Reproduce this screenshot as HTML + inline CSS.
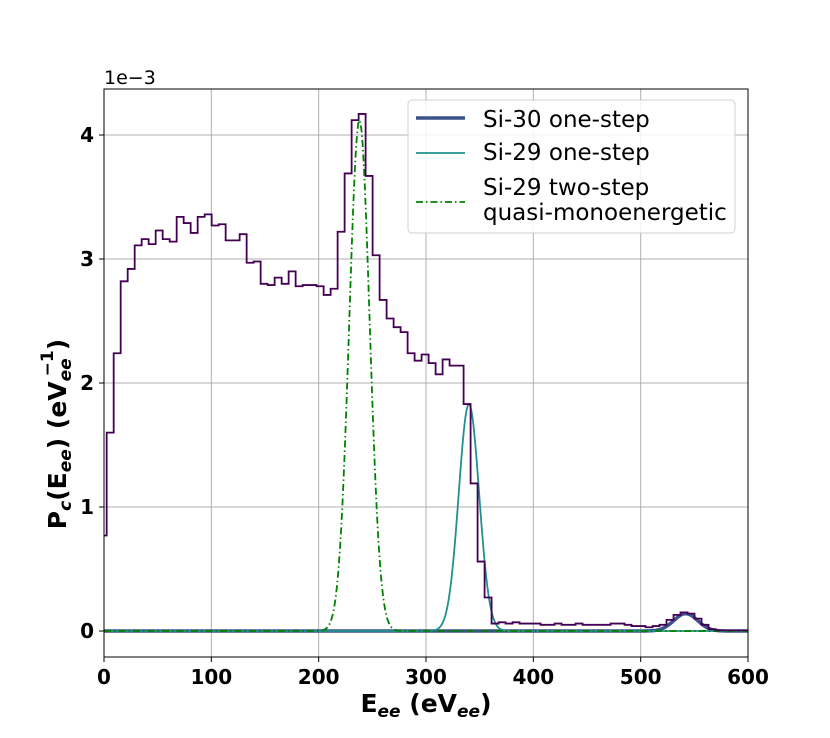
<!DOCTYPE html>
<html><head><meta charset="utf-8"><style>
body{margin:0;background:#fff;}
svg{display:block;font-family:"DejaVu Sans","Liberation Sans",sans-serif;}
</style></head><body>
<svg id="chart" width="830" height="738">
<g id="grid"></g>
<g id="series"></g>
<rect x="104" y="89" width="644" height="568" fill="none" stroke="#000" stroke-width="1"/>
<g id="ticks"></g>
<text x="104" y="84" font-size="19">1e−3</text>
<text x="426" y="712" font-size="25" font-weight="bold" text-anchor="middle">E<tspan font-size="17" font-style="italic" dy="5">ee</tspan><tspan dy="-5"> (eV</tspan><tspan font-size="17" font-style="italic" dy="5">ee</tspan><tspan dy="-5">)</tspan></text>
<text transform="translate(66,434) rotate(-90)" font-size="25" font-weight="bold" text-anchor="middle">P<tspan font-size="17" font-style="italic" dy="5">c</tspan><tspan dy="-5">(E</tspan><tspan font-size="17" font-style="italic" dy="5">ee</tspan><tspan dy="-5">) (eV</tspan><tspan font-size="17" font-style="italic" dy="5">ee</tspan><tspan font-size="17" dx="-18" dy="-18">−1</tspan><tspan dy="13">)</tspan></text>
<g>
<rect x="408" y="100" width="327" height="133" rx="4" fill="#fff" fill-opacity="0.85" stroke="#d0d0d0"/>
<line x1="416" y1="118" x2="465" y2="118" stroke="#3b528b" stroke-width="3.5"/>
<text x="483" y="127" font-size="23">Si-30 one-step</text>
<line x1="416" y1="153" x2="465" y2="153" stroke="#21918c" stroke-width="1.8"/>
<text x="483" y="160" font-size="23">Si-29 one-step</text>
<line x1="416" y1="202" x2="465" y2="202" stroke="#008000" stroke-width="1.8" stroke-dasharray="7,3,1.5,3"/>
<text x="483" y="195" font-size="23">Si-29 two-step</text>
<text x="483" y="220" font-size="23">quasi-monoenergetic</text>
</g>
</svg>
<script>
const xTicks=[0,100,200,300,400,500,600];
const yTicks=[0,1,2,3,4];
const binEdgeStart=2.5, binWidth=6.52;
const histValues=[0.77,1.60,2.24,2.82,2.92,3.11,3.16,3.12,3.23,3.16,3.14,3.34,3.29,3.21,3.34,3.36,3.27,3.28,3.15,3.15,3.20,2.97,2.98,2.80,2.79,2.85,2.80,2.90,2.78,2.79,2.79,2.78,2.71,2.76,3.22,3.69,4.12,4.17,3.67,3.03,2.67,2.52,2.45,2.41,2.24,2.18,2.23,2.16,2.07,2.19,2.14,2.14,1.83,1.19,0.56,0.27,0.06,0.07,0.06,0.07,0.06,0.06,0.06,0.05,0.05,0.06,0.05,0.05,0.06,0.05,0.05,0.05,0.05,0.06,0.06,0.05,0.04,0.04,0.03,0.04,0.05,0.09,0.13,0.15,0.14,0.10,0.05,0.015,0.005,0.005,0.005,0.005];
const gaussCenters=[542,340,238];
const gaussPeaks=[0.14,1.83,4.12];
const gaussSigmas=[11,9.5,9.5];
const gaussColors=['#3b528b','#21918c','#008000'];
const gaussNames=['si30-one-step-curve','si29-one-step-curve','si29-two-step-curve'];
const X=v=>104+v*644/600;
const Y=v=>631-v*124;
const NS='http://www.w3.org/2000/svg';
const grid=document.getElementById('grid'),ticks=document.getElementById('ticks'),series=document.getElementById('series');
function mk(tag,attrs,parent){const e=document.createElementNS(NS,tag);for(const k in attrs)e.setAttribute(k,attrs[k]);parent.appendChild(e);return e;}
xTicks.forEach(t=>{
 const g=mk('line',{x1:X(t),x2:X(t),y1:89,y2:657,stroke:'#b0b0b0','stroke-width':1},grid);
 
 
 const tk=mk('line',{x1:X(t),x2:X(t),y1:657,y2:662,stroke:'#000'},ticks);
 
 
 const tx=mk('text',{x:X(t),y:684,'font-size':20,'font-weight':'bold','text-anchor':'middle'},ticks);
 tx.textContent=t;
 
 
});
yTicks.forEach(t=>{
 const g=mk('line',{x1:104,x2:748,y1:Y(t),y2:Y(t),stroke:'#b0b0b0','stroke-width':1},grid);
 
 
 const tk=mk('line',{x1:99,x2:104,y1:Y(t),y2:Y(t),stroke:'#000'},ticks);
 
 
 const tx=mk('text',{x:94,y:Y(t)+7,'font-size':20,'font-weight':'bold','text-anchor':'end'},ticks);
 tx.textContent=t;
 
 
});
gaussCenters.forEach((c,i)=>{
 let d='';
 for(let e=0;e<=600;e+=1){const v=gaussPeaks[i]*Math.exp(-0.5*Math.pow((e-c)/gaussSigmas[i],2));d+=(e?'L':'M')+X(e).toFixed(2)+','+Y(v).toFixed(2);}
 const attrs={d:d,fill:'none',stroke:gaussColors[i],'stroke-width':i===0?3.5:1.8};
 if(i===2)attrs['stroke-dasharray']='7,3,1.5,3';
 const p=mk('path',attrs,series);
 
 
});
let d='M'+X(0)+','+Y(histValues[0]);
histValues.forEach((v,i)=>{
 const x0=i===0?0:binEdgeStart+(i-1)*binWidth;
 let x1=binEdgeStart+i*binWidth; if(i===histValues.length-1)x1=600;
 d+='L'+X(x0).toFixed(2)+','+Y(v).toFixed(2)+'L'+X(Math.min(x1,600)).toFixed(2)+','+Y(v).toFixed(2);
});
const h=mk('path',{d:d,fill:'none',stroke:'#440154','stroke-width':1.8},series);


</script>
</body></html>
